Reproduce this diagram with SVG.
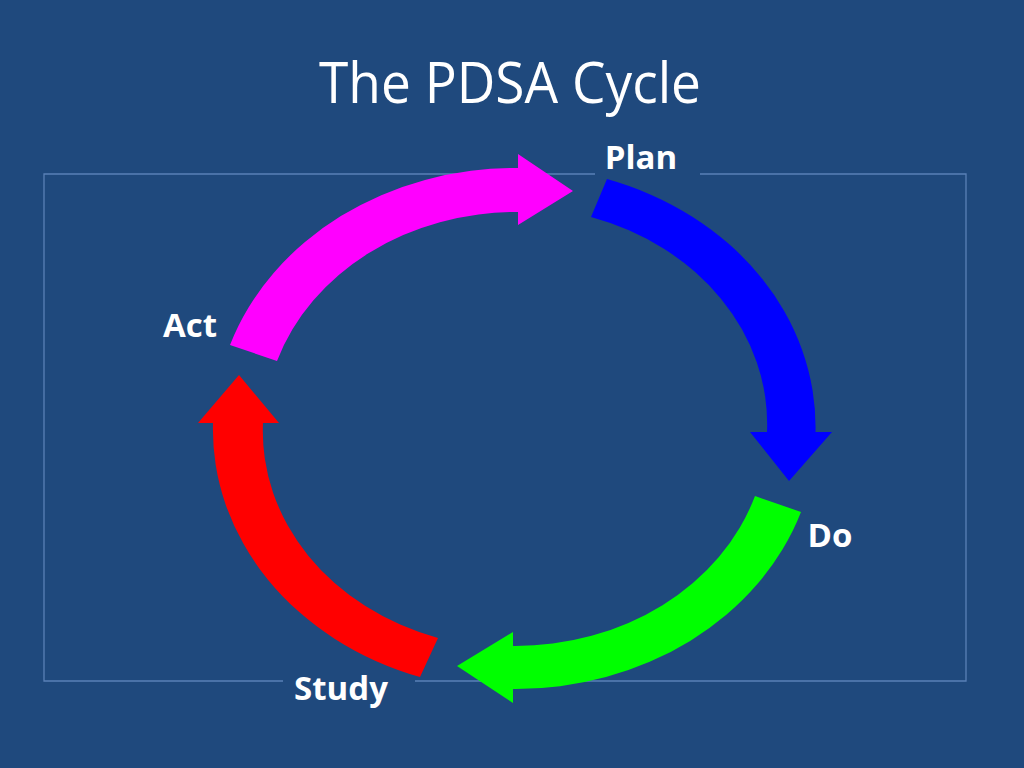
<svg xmlns="http://www.w3.org/2000/svg" width="1024" height="768" viewBox="0 0 1024 768">
  <style>
    .title { font-family: "Open Sans", "Liberation Sans", sans-serif; font-size: 57px; fill: #FFFFFF; }
    .label { font-family: "Open Sans", "Liberation Sans", sans-serif; font-size: 33px; font-weight: bold; fill: #FFFFFF; text-anchor: middle; }
    .frame { fill: none; stroke: #5A80B6; stroke-width: 1.3; }
  </style>
  <rect x="0" y="0" width="1024" height="768" fill="#1F497D"/>
  <text class="title" x="319" y="103" textLength="382" lengthAdjust="spacingAndGlyphs">The PDSA Cycle</text>
  <path class="frame" d="M 595 174 L 44 174 L 44 681 L 283 681 M 415 681 L 966 681 L 966 174 L 700 174"/>
  <g id="connectors">
    <path id="arrow-plan-do" fill="#0000FF" d="M 607 179 A 301 260.5 0 0 1 815.5 432 L 832 432 L 789 481 L 750 432 L 767 432 A 252 217 0 0 0 591 217 Z"/>
    <path id="arrow-do-study" fill="#00FF00" d="M 801 512 A 301 260.5 0 0 1 513 689 L 513 703 L 457 666 L 513 632 L 513 646 A 252 217 0 0 0 755 496 Z"/>
    <path id="arrow-study-act" fill="#FF0000" d="M 420 677 A 301 260.5 0 0 1 213 423 L 198 423 L 239 375 L 279 423 L 263 423 A 252 217 0 0 0 438 638 Z"/>
    <path id="arrow-act-plan" fill="#FF00FF" d="M 230 345 A 301 260.5 0 0 1 518 168 L 518 154 L 573 191 L 518 225 L 518 212 A 252 217 0 0 0 277 361 Z"/>
  </g>
  <g id="node-plan"><text class="label" x="641" y="169">Plan</text></g>
  <g id="node-do"><text class="label" x="830" y="547">Do</text></g>
  <g id="node-study"><text class="label" x="341" y="700">Study</text></g>
  <g id="node-act"><text class="label" x="190" y="337">Act</text></g>
</svg>
